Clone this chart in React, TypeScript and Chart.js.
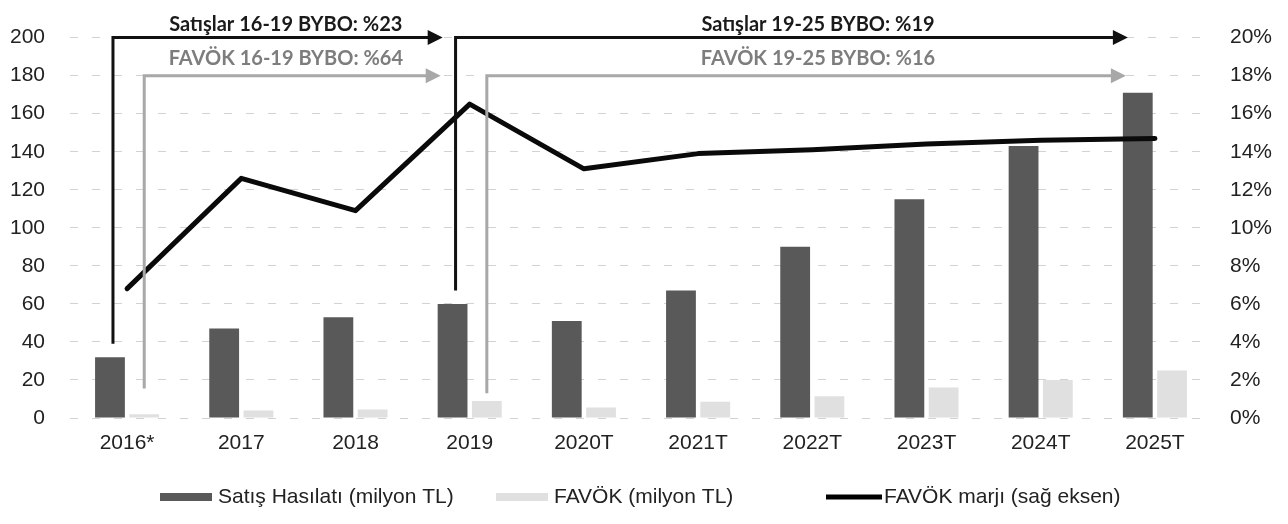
import React, { useEffect, useRef } from "react";
import { Chart, registerables } from "chart.js";

Chart.register(...registerables);

// ---- data ----
const categories = ["2016*", "2017", "2018", "2019", "2020T", "2021T", "2022T", "2023T", "2024T", "2025T"];
const salesValues = [32, 47, 53, 60, 51, 67, 90, 115, 143, 171];
const ebitdaValues = [2, 4, 4.5, 9, 5.5, 8.5, 11.5, 16, 20, 25];
const marginValues = [6.8, 12.6, 10.9, 16.5, 13.1, 13.9, 14.1, 14.4, 14.6, 14.7];
const seriesLabels = ["Satış Hasılatı (milyon TL)", "FAVÖK (milyon TL)", "FAVÖK marjı (sağ eksen)"];
const leftAxisMax = 200;
const leftAxisStep = 20;
const rightAxisMax = 20;
const rightAxisStep = 2;

// CAGR annotations (periods 2016-2019 and 2019-2025)
const periodFromIndex = [0, 3];
const periodToIndex = [3, 9];
const salesCagrTexts = ["Satışlar 16-19 BYBO: %23", "Satışlar 19-25 BYBO: %19"];
const ebitdaCagrTexts = ["FAVÖK 16-19 BYBO: %64", "FAVÖK 19-25 BYBO: %16"];
const salesArrowStart = [39, 67];
const ebitdaArrowStart = [15.5, 13];
const salesArrowLevel = 200;
const ebitdaArrowLevel = 180;
const labelCenterIndex = [1.39, 6.05];

const DARK = "#595959";
const LIGHT = "#e0e0e0";
const GRAY_ARROW = "#a8a8a8";
const GRAY_TEXT = "#7d7d7d";
const FONT = "'Liberation Sans', Arial, sans-serif";

function drawArrow(ctx: CanvasRenderingContext2D, x: number, y0: number, y1: number, tip: number, color: string) {
  const head = 15;
  ctx.save();
  ctx.strokeStyle = color;
  ctx.fillStyle = color;
  ctx.lineWidth = 3;
  ctx.lineJoin = "miter";
  ctx.beginPath();
  ctx.moveTo(x, y0);
  ctx.lineTo(x, y1);
  ctx.lineTo(tip - head + 2, y1);
  ctx.stroke();
  ctx.beginPath();
  ctx.moveTo(tip, y1);
  ctx.lineTo(tip - head, y1 - 7.5);
  ctx.lineTo(tip - head, y1 + 7.5);
  ctx.closePath();
  ctx.fill();
  ctx.restore();
}

const annotationPlugin = {
  id: "cagrArrows",
  afterDatasetsDraw(chart: any) {
    const ctx: CanvasRenderingContext2D = chart.ctx;
    const y = chart.scales.y;
    const x = chart.scales.x;
    const darkBars = chart.getDatasetMeta(0).data;
    const lightBars = chart.getDatasetMeta(1).data;
    for (let k = 0; k < periodFromIndex.length; k++) {
      const from = periodFromIndex[k];
      const to = periodToIndex[k];
      const tip = darkBars[to].x - darkBars[to].width / 2 + 5;
      const sLevel = y.getPixelForValue(salesArrowLevel);
      const eLevel = y.getPixelForValue(ebitdaArrowLevel);
      drawArrow(ctx, darkBars[from].x + 3, y.getPixelForValue(salesArrowStart[k]), sLevel, tip, "#111111");
      drawArrow(ctx, lightBars[from].x, y.getPixelForValue(ebitdaArrowStart[k]), eLevel, tip - 2, GRAY_ARROW);
      const cx = x.getPixelForValue(labelCenterIndex[k]);
      ctx.save();
      ctx.textAlign = "center";
      ctx.textBaseline = "alphabetic";
      ctx.font = "bold 20px Lato";
      ctx.fillStyle = "#1a1a1a";
      ctx.fillText(salesCagrTexts[k], cx, sLevel - 7);
      ctx.fillStyle = GRAY_TEXT;
      ctx.fillText(ebitdaCagrTexts[k], cx, eLevel - 11);
      ctx.restore();
    }
  },
};

const legendPlugin = {
  id: "bottomLegend",
  afterDraw(chart: any) {
    const ctx: CanvasRenderingContext2D = chart.ctx;
    const starts = [160, 496, 826];
    const yc = 497;
    ctx.save();
    ctx.font = "21px " + FONT;
    ctx.textBaseline = "middle";
    ctx.textAlign = "left";
    ctx.fillStyle = DARK;
    ctx.fillRect(starts[0], yc - 4, 52, 8);
    ctx.fillStyle = LIGHT;
    ctx.fillRect(starts[1], yc - 4, 52, 8);
    ctx.strokeStyle = "#000000";
    ctx.lineWidth = 5;
    ctx.beginPath();
    ctx.moveTo(starts[2], yc);
    ctx.lineTo(starts[2] + 56, yc);
    ctx.stroke();
    ctx.fillStyle = "#222222";
    ctx.fillText(seriesLabels[0], starts[0] + 58, yc);
    ctx.fillText(seriesLabels[1], starts[1] + 58, yc);
    ctx.fillText(seriesLabels[2], starts[2] + 58, yc);
    ctx.restore();
  },
};

export default function App() {
  const canvasRef = useRef<HTMLCanvasElement | null>(null);

  useEffect(() => {
    if (!canvasRef.current) return;
    const tickFont = { family: FONT, size: 21 };
    const chart = new Chart(canvasRef.current, {
      type: "bar",
      data: {
        labels: categories,
        datasets: [
          {
            type: "bar",
            label: seriesLabels[0],
            data: salesValues,
            backgroundColor: DARK,
            yAxisID: "y",
            order: 2,
            categoryPercentage: 0.6,
            barPercentage: 0.87,
          },
          {
            type: "bar",
            label: seriesLabels[1],
            data: ebitdaValues,
            backgroundColor: LIGHT,
            yAxisID: "y",
            order: 2,
            categoryPercentage: 0.6,
            barPercentage: 0.87,
          },
          {
            type: "line",
            label: seriesLabels[2],
            data: marginValues,
            borderColor: "#0a0a0a",
            backgroundColor: "#0a0a0a",
            borderWidth: 5,
            pointRadius: 0,
            tension: 0,
            borderCapStyle: "round",
            borderJoinStyle: "round",
            yAxisID: "y1",
            order: 0,
          },
        ],
      } as any,
      options: {
        responsive: false,
        animation: false,
        layout: { padding: { top: 31, left: 0, right: 0, bottom: 0 } },
        plugins: {
          legend: { display: false },
          tooltip: { enabled: false },
        },
        scales: {
          x: {
            grid: { display: false, drawTicks: false },
            border: { display: false },
            ticks: { font: tickFont, color: "#222222", padding: 13, maxRotation: 0 },
            afterFit: (s: any) => {
              s.height = 106;
            },
          },
          y: {
            position: "left",
            min: 0,
            max: leftAxisMax,
            ticks: { stepSize: leftAxisStep, font: tickFont, color: "#222222", padding: 25 },
            grid: { color: "#d2d2d2", lineWidth: 1, drawTicks: false },
            border: { display: false, dash: [8, 14] },
            afterFit: (s: any) => {
              s.width = 70;
            },
          },
          y1: {
            position: "right",
            min: 0,
            max: rightAxisMax,
            ticks: {
              stepSize: rightAxisStep,
              font: tickFont,
              color: "#222222",
              padding: 18,
              callback: (v: any) => v + "%",
            },
            grid: { display: false, drawTicks: false },
            border: { display: false },
            afterFit: (s: any) => {
              s.width = 76;
            },
          },
        },
      } as any,
      plugins: [annotationPlugin, legendPlugin],
    });
    return () => chart.destroy();
  }, []);

  return (
    <div style={{ position: "absolute", left: 0, top: 0, width: 1288, height: 524, background: "#ffffff" }}>
      <canvas ref={canvasRef} width={1288} height={524} style={{ display: "block" }} />
    </div>
  );
}
